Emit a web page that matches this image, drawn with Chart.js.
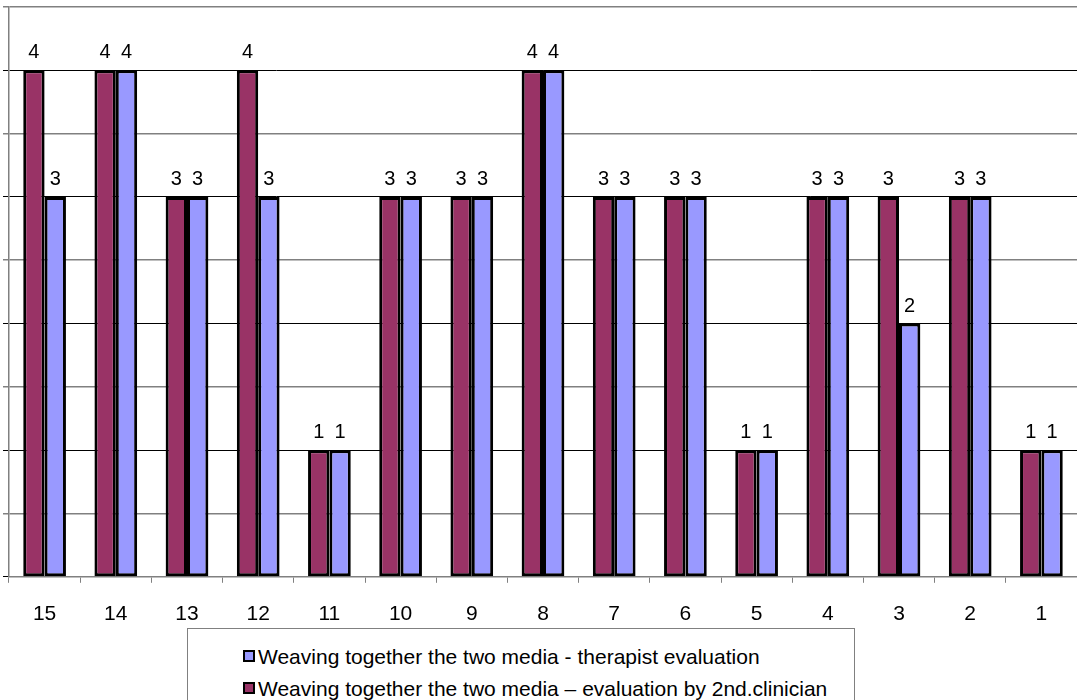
<!DOCTYPE html>
<html>
<head>
<meta charset="utf-8">
<script src="https://cdn.jsdelivr.net/npm/chart.js@4"></script>
<style>
body{margin:0;background:#fff;}
#wrap{position:relative;width:1077px;height:700px;overflow:hidden;}
#legend{position:absolute;left:187px;top:628px;width:666px;height:90px;border:1px solid #808080;background:#fff;
font-family:"Liberation Sans",Arial,sans-serif;font-size:21px;color:#000;}
#legend div{position:absolute;left:55px;white-space:nowrap;}
#legend span{display:inline-block;width:8px;height:8px;border:2px solid #000;margin-right:3px;vertical-align:2px;}
</style>
</head>
<body>
<div id="wrap">
<canvas id="grafico" width="1077" height="700"></canvas>
<div id="legend"></div>
</div>
<script>
let categorias=["15","14","13","12","11","10","9","8","7","6","5","4","3","2","1"]
let clinico=[4,4,3,4,1,3,3,4,3,3,1,3,3,3,1]
let terapeuta=[3,4,3,3,1,3,3,4,3,3,1,3,2,3,1]
let nomeTerapeuta="Weaving together the two media - therapist evaluation"
let nomeClinico="Weaving together the two media \u2013 evaluation by 2nd.clinician"

// valores acima das barras
let rotulos={
id:"rotulos",
afterDatasetsDraw(chart){
let ctx=chart.ctx
ctx.save()
ctx.font="20px 'Liberation Sans', Arial, sans-serif"
ctx.fillStyle="#000"
ctx.textAlign="center"
ctx.textBaseline="alphabetic"
chart.data.datasets.forEach((ds,i)=>{
chart.getDatasetMeta(i).data.forEach((bar,j)=>{
ctx.fillText(ds.data[j],bar.x,bar.y-12)
})
})
ctx.restore()
}
}

new Chart(document.getElementById("grafico"),{
type:"bar",
data:{
labels:categorias,
datasets:[
{label:nomeClinico,data:clinico,backgroundColor:"#993366",borderColor:"#000",borderWidth:3,borderSkipped:false},
{label:nomeTerapeuta,data:terapeuta,backgroundColor:"#9999FF",borderColor:"#000",borderWidth:3,borderSkipped:false}
]
},
options:{
responsive:false,
animation:false,
categoryPercentage:0.6,
barPercentage:1,
layout:{padding:{left:3,top:7,right:0,bottom:54}},
plugins:{legend:{display:false},tooltip:{enabled:false}},
scales:{
x:{
grid:{drawOnChartArea:false,offset:true,tickLength:6,color:"#808080"},
border:{color:"#808080",width:1.5},
ticks:{padding:19,color:"#000",font:{family:"'Liberation Sans', Arial, sans-serif",size:21}}
},
y:{
min:0,max:4.5,
grid:{tickLength:6,color:c=>c.index%2?"#808080":"#000",lineWidth:c=>c.index%2?1.5:1},
border:{color:"#808080",width:1.5},
ticks:{display:false,stepSize:0.5}
}
}
},
plugins:[rotulos]
})

let legenda=document.getElementById("legend")
legenda.innerHTML='<div style="top:16px"><span style="background:#9999FF"></span>'+nomeTerapeuta+'</div>'+
'<div style="top:48px"><span style="background:#993366"></span>'+nomeClinico+'</div>'
</script>
</body>
</html>
